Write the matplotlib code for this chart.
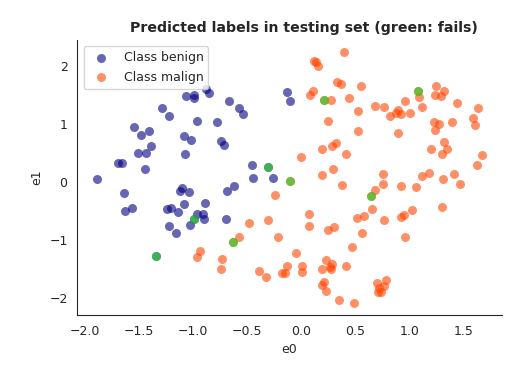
import matplotlib
matplotlib.use("Agg")
import matplotlib.pyplot as plt
import seaborn as sns

sns.set_style("white")
plt.rcParams['font.family'] = ['DejaVu Sans']

benign_x = [-1.066, -0.993, -0.993, -0.885, -0.857, -0.672, -1.285, -1.221, -0.965, -0.777,
            -1.544, -1.485, -1.411, -1.085, -1.023, -0.743, -0.716, -1.392, -1.512, -1.436,
            -1.078, -1.692, -1.660, -1.445, -1.891, -1.639, -1.106, -1.119, -1.036, -0.685,
            -0.620, -1.085, -0.894, -1.633, -1.568, -1.239, -1.205, -1.143, -0.962, -0.907,
            -0.900, -0.700, -1.027, -1.226, -1.159, -0.577, -0.537, -0.134, -0.106, -0.457,
            -0.448, -0.260, -0.993, -1.346, -0.312]
benign_y = [1.484, 1.496, 1.439, 1.594, 1.525, 1.387, 1.266, 1.133, 1.041, 1.035,
            0.948, 0.810, 0.869, 0.793, 0.713, 0.701, 0.632, 0.615, 0.503, 0.503,
            0.482, 0.316, 0.316, 0.218, 0.045, -0.197, -0.116, -0.162, -0.185, -0.162,
            -0.076, -0.387, -0.370, -0.508, -0.461, -0.468, -0.451, -0.530, -0.554, -0.554,
            -0.651, -0.651, -0.744, -0.762, -0.888, 1.266, 1.162, 1.548, 1.397, 0.292,
            0.057, 0.057, -0.651, -1.290, 0.252]

malign_x = [0.392, 0.113, 0.131, 0.150, 0.325, 0.365, 0.547, 0.109, 0.078, 0.275,
            0.439, 0.524, 0.245, 0.524, 0.321, 0.284, 0.192, 0.411, -0.005, 0.294,
            0.192, 0.371, -0.247, -0.485, -0.307, 0.066, 0.069, 0.242, 0.303, 0.510,
            0.574, 0.561, -0.577, -0.217, -0.051, 0.466, -0.934, -0.968, -0.737, -0.743,
            -0.392, -0.328, -0.137, -0.180, -0.152, 0.007, 0.005, 0.223, 0.192, 0.263,
            0.279, 0.272, 0.411, 0.211, 0.192, 0.226, 0.349, 0.485,
            1.082, 1.239, 1.235, 1.285, 1.313, 1.439, 1.630, 0.681, 0.765, 0.953,
            1.115, 0.888, 0.873, 0.814, 0.919, 1.002, 0.888, 1.226, 1.267, 1.230,
            1.390, 1.581, 1.599, 1.316, 1.341, 1.295, 1.199, 1.667, 1.618, 0.753,
            0.753, 1.113, 1.175, 1.309, 1.411, 1.461, 0.916, 1.057, 0.676, 0.654,
            0.762, 0.922, 0.949, 1.023, 1.297, 0.956, 0.694, 0.780, 0.716, 0.762,
            0.706, 0.734,
            -0.635, -0.109, 0.211, 0.639, 1.076]
malign_y = [2.238, 2.078, 2.060, 1.997, 1.715, 1.680, 1.646, 1.565, 1.501, 1.415,
            1.444, 1.219, 1.047, 0.874, 0.672, 0.620, 0.563, 0.482, 0.430, 0.223,
            0.114, -0.064, -0.237, -0.710, -0.668, -0.565, -0.772, -0.831, -0.789, -0.623,
            -0.599, -0.893, -0.957, -0.952, -1.228, -1.135, -1.199, -1.302, -1.342, -1.513,
            -1.549, -1.653, -1.458, -1.573, -1.573, -1.453, -1.556, -1.349, -1.504, -1.470,
            -1.428, -1.515, -1.453, -1.739, -1.781, -1.889, -2.040, -2.092,
            1.466, 1.656, 1.496, 1.478, 1.565, 1.352, 1.266, 1.301, 1.294, 1.387,
            1.294, 1.242, 1.190, 1.133, 1.173, 1.185, 0.839, 1.024, 1.000, 0.891,
            1.024, 1.098, 0.983, 0.679, 0.563, 0.482, 0.568, 0.454, 0.292, 0.131,
            -0.036, 0.097, 0.149, 0.040, 0.126, -0.041, -0.071, -0.098, -0.145, -0.473,
            -0.668, -0.617, -0.577, -0.496, -0.439, -0.962, -1.756, -1.694, -1.838, -1.803,
            -1.907, -1.907,
            -1.048, 0.010, 1.409, -0.249, 1.560]

fail_x = [-0.993, -1.346, -0.635, -0.312, -0.109, 0.211, 0.639, 1.076]
fail_y = [-0.651, -1.290, -1.048, 0.252, 0.010, 1.409, -0.249, 1.560]

fig = plt.figure(figsize=(5.26, 3.71), dpi=100)
ax = fig.add_axes([0.147, 0.151, 0.807, 0.741])

ax.scatter(benign_x, benign_y, s=42, color='navy', alpha=0.6, lw=0, label='Class benign')
ax.scatter(malign_x, malign_y, s=42, color='orangered', alpha=0.6, lw=0, label='Class malign')
ax.scatter(fail_x, fail_y, s=42, color='limegreen', alpha=0.7, lw=0)

ax.set_xlim(-2.07, 1.85)
ax.set_ylim(-2.30, 2.445)
ax.set_xticks([-2.0, -1.5, -1.0, -0.5, 0.0, 0.5, 1.0, 1.5])
ax.set_yticks([-2, -1, 0, 1, 2])
ax.tick_params(labelsize=9, colors='.15')
ax.set_xlabel('e0', fontsize=9)
ax.set_ylabel('e1', fontsize=9)
ax.set_title('Predicted labels in testing set (green: fails)', fontweight='bold',
             fontsize=10.2, x=0.534)
ax.legend(loc='upper left', fontsize=9)
sns.despine(ax=ax)

fig.savefig('out.png', dpi=100)
